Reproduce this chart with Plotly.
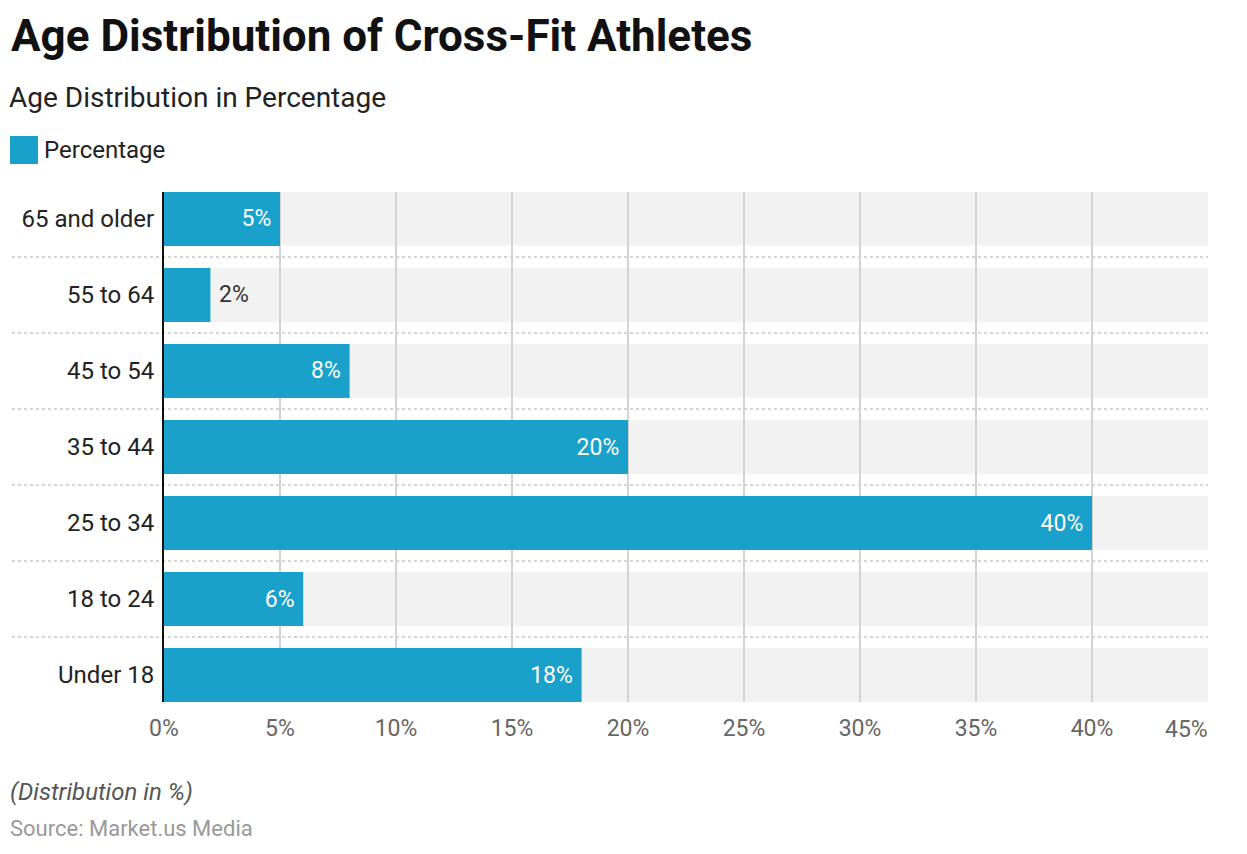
import plotly.graph_objects as go

categories = ["Under 18", "18 to 24", "25 to 34", "35 to 44", "45 to 54", "55 to 64", "65 and older"]
values = [18, 6, 40, 20, 8, 2, 5]
tick_vals = [0, 5, 10, 15, 20, 25, 30, 35, 40, 45]
tick_text = ["0%", "5%", "10%", "15%", "20%", "25%", "30%", "35%", "40%", "45%"]
series_name = "Percentage"
axis_max = 45

# page offset (browser body margin)
OFF = 8
W, H = 1247 - OFF, 854 - OFF
# plot area in page pixels
PL, PR, PT, PB = 164, 1208, 192, 702
ML, MR, MT, MB = PL - OFF, W - (PR - OFF), PT - OFF, H - (PB - OFF)
PW, PH = PR - PL, PB - PT
BAR_COLOR = "#19a1cc"
FONT = "Roboto"
BAR_W = 0.71


def px(x):
    return (x - PL) / PW


def py(y):
    return (PB - y) / PH


labels = [f"{v}%&nbsp;" if v >= 3 else f"&nbsp;{v}%" for v in values]
positions = ["inside" if v >= 3 else "outside" for v in values]

fig = go.Figure()
fig.add_trace(go.Bar(
    y=categories, x=values, orientation="h", name=series_name,
    marker=dict(color=BAR_COLOR, line=dict(width=0)),
    width=BAR_W,
    text=labels,
    textposition=positions, insidetextanchor="end",
    insidetextfont=dict(color="white", size=23, family=FONT),
    outsidetextfont=dict(color="#333333", size=23, family=FONT),
    constraintext="none", cliponaxis=False,
    showlegend=False,
))

shapes = []
n = len(categories)
for i in range(n):
    shapes.append(dict(type="rect", xref="x", yref="y", x0=0, x1=axis_max,
                       y0=i - BAR_W / 2, y1=i + BAR_W / 2, fillcolor="#f2f2f2",
                       line=dict(width=0), layer="below"))
for i in range(n - 1):
    shapes.append(dict(type="line", xref="paper", yref="y", x0=px(12), x1=1.0,
                       y0=i + 0.5, y1=i + 0.5,
                       line=dict(color="#c8c8c8", width=1.5, dash="dot"), layer="below"))
# legend swatch
shapes.append(dict(type="rect", xref="paper", yref="paper", x0=px(10), x1=px(38),
                   y0=py(164), y1=py(136), fillcolor=BAR_COLOR, line=dict(width=0)))

annotations = [
    dict(text="<b>Age Distribution of Cross-Fit Athletes</b>", x=px(9), y=py(36),
         xref="paper", yref="paper", xanchor="left", yanchor="middle", showarrow=False,
         font=dict(size=44, color="#111111", family=FONT)),
    dict(text="Age Distribution in Percentage", x=px(7), y=py(97),
         xref="paper", yref="paper", xanchor="left", yanchor="middle", showarrow=False,
         font=dict(size=28, color="#222222", family=FONT)),
    dict(text=series_name, x=px(42), y=py(150),
         xref="paper", yref="paper", xanchor="left", yanchor="middle", showarrow=False,
         font=dict(size=24, color="#222222", family=FONT)),
    dict(text="<i>(Distribution in %)</i>", x=px(8), y=py(792),
         xref="paper", yref="paper", xanchor="left", yanchor="middle", showarrow=False,
         font=dict(size=24, color="#555555", family=FONT)),
    dict(text="Source: Market.us Media", x=px(8), y=py(828),
         xref="paper", yref="paper", xanchor="left", yanchor="middle", showarrow=False,
         font=dict(size=22, color="#999999", family=FONT)),
    # last x tick label sits right-aligned inside the plot edge
    dict(text=tick_text[-1], x=tick_vals[-1], y=py(729),
         xref="x", yref="paper", xanchor="right", yanchor="middle", showarrow=False,
         xshift=2, font=dict(size=23, color="#666666", family=FONT)),
]

shown_ticks = tick_text[:-1] + [""]

fig.update_layout(
    width=W, height=H,
    margin=dict(l=ML, r=MR, t=MT, b=MB, pad=0),
    paper_bgcolor="white", plot_bgcolor="white",
    font=dict(family=FONT),
    barmode="overlay",
    shapes=shapes, annotations=annotations,
    xaxis=dict(range=[0, axis_max], tickvals=tick_vals, ticktext=shown_ticks,
               showgrid=True, gridcolor="#d3d3d3", gridwidth=1.5,
               zeroline=False, showline=False, ticks="outside", ticklen=5,
               tickcolor="rgba(0,0,0,0)",
               tickfont=dict(size=23, color="#666666", family=FONT),
               fixedrange=True),
    yaxis=dict(categoryorder="array", categoryarray=categories,
               range=[-BAR_W / 2, n - 1 + BAR_W / 2],
               showgrid=False, zeroline=False,
               showline=True, linecolor="#111111", linewidth=2,
               ticks="outside", ticklen=3, tickcolor="rgba(0,0,0,0)",
               tickfont=dict(size=24, color="#222222", family=FONT),
               fixedrange=True),
)

fig.write_html("out.html")
